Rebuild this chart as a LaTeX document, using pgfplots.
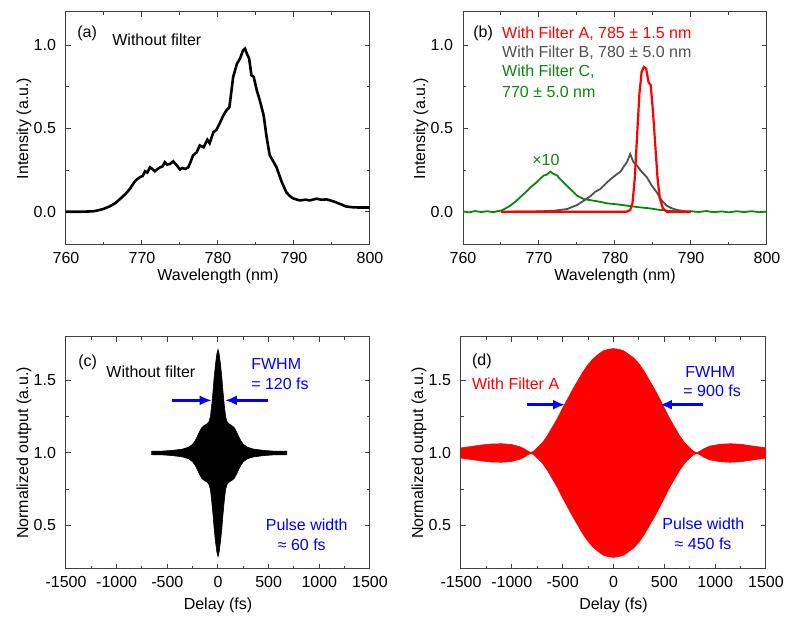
\documentclass[border=0pt]{standalone}
\usepackage{fontspec}
\setmainfont{Liberation Sans}
\usepackage{pgfplots}
\pgfplotsset{compat=1.18}
\usetikzlibrary{arrows.meta}

\definecolor{cred}{RGB}{255,0,0}
\definecolor{cgray}{RGB}{80,80,80}
\definecolor{cgreen}{RGB}{10,135,10}
\definecolor{cblue}{RGB}{0,0,255}

\tikzset{
  lbl/.style={anchor=west, inner xsep=0pt},
  farrow/.style={cblue, line width=1.3pt, -{Latex[length=6pt,width=5pt]}},
}

\pgfplotsset{
  panel/.style={
    scale only axis,
    font=\fontsize{8}{9.6}\selectfont,
    tick align=inside,
    tick pos=both,
    major tick length=2.5pt,
    minor tick length=1.5pt,
    axis line style={draw=black!75, line width=0.5pt},
    every tick/.style={draw=black!75, line width=0.5pt},
    /pgf/number format/assume math mode=true,
    yticklabel style={xshift=-1.5pt, /pgf/number format/.cd, fixed, fixed zerofill, precision=1},
    minor x tick num=1,
    minor y tick num=1,
  },
  spec/.style={
    panel, width=152pt, height=116.5pt,
    xmin=760, xmax=800, ymin=-0.2, ymax=1.2,
    xtick={760,770,780,790,800}, ytick={0,0.5,1.0},
    xlabel={Wavelength (nm)}, ylabel={Intensity (a.u.)},
    xlabel style={at={(axis description cs:0.5,-0.135)}, anchor=center},
    ylabel style={at={(axis description cs:-0.138,0.5)}, anchor=center},
  },
  delay/.style={
    panel, width=152pt, height=116pt,
    xmin=-1500, xmax=1500, ymin=0.2, ymax=1.8,
    xtick={-1500,-1000,-500,0,500,1000,1500}, ytick={0.5,1.0,1.5},
    xticklabel style={/pgf/number format/.cd, int detect, 1000 sep={}},
    xlabel={Delay (fs)}, ylabel={Normalized output (a.u.)},
    xlabel style={at={(axis description cs:0.5,-0.158)}, anchor=center},
    ylabel style={at={(axis description cs:-0.138,0.5)}, anchor=center},
  },
}

\begin{document}
\begin{tikzpicture}
\useasboundingbox (0,0) rectangle (400pt,315pt);

%% (a) spectrum without filter
\begin{axis}[spec, at={(33pt,192.5pt)}, anchor=south west]
\addplot[black, line width=1.3pt] coordinates {
  (760,0.000) (762,0.000) (763.5,0.002) (764,0.006) (764.9,0.016) (765.8,0.033)
  (766.5,0.052) (767.1,0.076) (767.8,0.105) (768.4,0.137) (769.1,0.185)
  (769.7,0.207) (770.1,0.215) (770.4,0.243) (770.7,0.235) (771.05,0.267)
  (771.4,0.255) (771.7,0.243) (772.1,0.258) (772.4,0.267) (772.7,0.272)
  (773.0,0.297) (773.3,0.283) (773.7,0.287) (774.1,0.303) (774.6,0.277)
  (775.0,0.253) (775.3,0.262) (775.7,0.257) (776.1,0.267) (776.4,0.300)
  (776.7,0.337) (777.2,0.357) (777.6,0.398) (778.1,0.387) (778.6,0.432)
  (778.9,0.411) (779.4,0.478) (779.8,0.492) (780.3,0.538) (780.7,0.578)
  (781.1,0.608) (781.5,0.628) (781.7,0.700) (782.0,0.810) (782.5,0.890)
  (782.9,0.920) (783.3,0.970) (783.55,0.980) (783.8,0.950) (784.1,0.920)
  (784.4,0.820) (784.7,0.810) (785.1,0.730) (785.5,0.669) (786.0,0.580)
  (786.4,0.448) (786.8,0.340) (787.3,0.300) (787.7,0.267) (788.4,0.177)
  (789.0,0.116) (789.5,0.092) (789.9,0.080) (790.4,0.072) (790.8,0.068)
  (791.5,0.072) (792.1,0.068) (792.6,0.074) (793.0,0.078) (793.6,0.072)
  (794.3,0.074) (795.2,0.062) (796.1,0.046) (796.8,0.032) (797.8,0.026)
  (799,0.025) (800,0.025)
};
\node[lbl] at (axis cs:761.45,1.072) {(a)};
\node[lbl] at (axis cs:766.05,1.030) {Without filter};
\end{axis}

%% (b) spectra with filters
\begin{axis}[spec, at={(231.5pt,192.5pt)}, anchor=south west]
\addplot[cgray, line width=0.9pt] coordinates {
  (766,0.000) (770,0.002) (772,0.006) (773.7,0.016) (775,0.040) (775.9,0.066)
  (776.8,0.095) (777.4,0.120) (778.1,0.137) (778.8,0.170) (779.4,0.195)
  (780.3,0.227) (780.7,0.240) (781.1,0.267) (781.6,0.300) (782.0,0.347)
  (782.4,0.300) (782.9,0.277) (783.5,0.240) (784.2,0.207) (784.8,0.160)
  (785.5,0.116) (786.1,0.070) (786.8,0.036) (787.5,0.020) (788.2,0.010)
  (789,0.004) (790,0.000)
};
\addplot[cgreen, line width=0.9pt] coordinates {
  (760,0.002) (760.8,-0.004) (761.6,0.004) (762.4,-0.002) (763.2,0.003)
  (764,-0.003) (764.6,0.004) (765.0,0.006) (765.6,0.020) (766.2,0.036)
  (766.9,0.060) (767.5,0.086) (768.2,0.115) (768.9,0.147) (769.7,0.177)
  (770.2,0.200) (770.6,0.217) (771.0,0.222) (771.5,0.240) (771.9,0.228)
  (772.4,0.217) (772.8,0.195) (773.2,0.177) (773.7,0.155) (774.1,0.137)
  (774.6,0.115) (775.0,0.096) (775.9,0.076) (777.2,0.066) (778.2,0.058)
  (779.0,0.050) (780.3,0.044) (781.6,0.036) (783.3,0.026) (784.6,0.020)
  (786.0,0.010) (787.0,0.006) (788.2,0.002) (789,-0.003) (790,0.003)
  (791,-0.002) (792,0.004) (793,-0.003) (794,0.002) (795,-0.004)
  (796,0.003) (797,-0.002) (798,0.003) (799,-0.003) (800,0.001)
};
\addplot[cred, line width=1.1pt] coordinates {
  (765,0.000) (781.5,0.000) (782.0,0.010) (782.3,0.050) (782.6,0.200)
  (782.9,0.450) (783.2,0.700) (783.5,0.840) (783.8,0.870) (784.1,0.860)
  (784.4,0.780) (784.7,0.760) (785.0,0.600) (785.3,0.400) (785.6,0.200)
  (785.9,0.080) (786.3,0.020) (786.8,0.000) (790,0.000)
};
\node[lbl] at (axis cs:761.3,1.072) {(b)};
\node[lbl, text=cred] at (axis cs:765.1,1.072) {With Filter A, 785 ± 1.5 nm};
\node[lbl, text=cgray] at (axis cs:765.1,0.954) {With Filter B, 780 ± 5.0 nm};
\node[lbl, text=cgreen] at (axis cs:765.1,0.843) {With Filter C,};
\node[lbl, text=cgreen] at (axis cs:765.1,0.720) {770 ± 5.0 nm};
\node[text=cgreen] at (axis cs:770.9,0.313) {×10};
\end{axis}

%% (c) autocorrelation without filter
\begin{axis}[delay, at={(33pt,30.5pt)}, anchor=south west]
\addplot[fill=black, draw=black, line width=0.3pt] coordinates {
  (-655,1.012) (-550,1.013) (-450,1.018) (-350,1.027) (-290,1.040)
  (-250,1.060) (-225,1.085) (-200,1.120) (-180,1.150) (-160,1.175)
  (-135,1.190) (-110,1.200) (-90,1.215) (-75,1.250) (-62,1.330)
  (-50,1.420) (-38,1.520) (-25,1.610) (-12,1.680) (0,1.715)
  (12,1.680) (25,1.610) (38,1.520) (50,1.420) (62,1.330) (75,1.250)
  (90,1.215) (110,1.200) (135,1.190) (160,1.175) (180,1.150) (200,1.120)
  (225,1.085) (250,1.060) (290,1.040) (350,1.027) (450,1.018) (550,1.013)
  (680,1.012)
  (680,0.988) (550,0.987) (450,0.982) (350,0.973) (290,0.960) (250,0.940)
  (225,0.915) (200,0.880) (180,0.850) (160,0.825) (135,0.810) (110,0.800)
  (90,0.785) (75,0.750) (62,0.670) (50,0.580) (38,0.480) (25,0.390)
  (12,0.320) (0,0.285) (-12,0.320) (-25,0.390) (-38,0.480) (-50,0.580)
  (-62,0.670) (-75,0.750) (-90,0.785) (-110,0.800) (-135,0.810)
  (-160,0.825) (-180,0.850) (-200,0.880) (-225,0.915) (-250,0.940)
  (-290,0.960) (-350,0.973) (-450,0.982) (-550,0.987) (-655,0.988)
} -- cycle;
\draw[farrow] (axis cs:-457,1.363) -- (axis cs:-62,1.363);
\draw[farrow] (axis cs:497,1.363) -- (axis cs:69,1.363);
\node[lbl] at (axis cs:-1382,1.625) {(c)};
\node[lbl] at (axis cs:-1105,1.557) {Without filter};
\node[lbl, text=cblue] at (axis cs:325,1.614) {FWHM};
\node[lbl, text=cblue] at (axis cs:325,1.480) {= 120 fs};
\node[text=cblue] at (axis cs:876,0.507) {Pulse width};
\node[text=cblue] at (axis cs:827,0.370) {≈ 60 fs};
\end{axis}

%% (d) autocorrelation with filter A
\begin{axis}[delay, width=152.5pt, at={(230.5pt,30.5pt)}, anchor=south west]
\addplot[fill=cred, draw=cred, line width=0.3pt] coordinates {
  (-1500,1.035) (-1400,1.045) (-1300,1.055) (-1200,1.062) (-1100,1.064)
  (-1000,1.058) (-930,1.045) (-880,1.030) (-840,1.012) (-815,1.003)
  (-790,1.010) (-750,1.035) (-700,1.070) (-650,1.120) (-600,1.180)
  (-550,1.240) (-500,1.310) (-450,1.375) (-400,1.440) (-350,1.500)
  (-300,1.560) (-250,1.610) (-200,1.650) (-150,1.680) (-100,1.705)
  (-50,1.715) (0,1.720) (50,1.715) (100,1.705) (150,1.680) (200,1.655)
  (250,1.615) (300,1.565) (350,1.505) (400,1.445) (450,1.380) (500,1.310)
  (550,1.240) (600,1.180) (650,1.120) (700,1.070) (750,1.035) (790,1.010)
  (820,1.003) (850,1.012) (890,1.030) (950,1.048) (1050,1.060)
  (1150,1.064) (1250,1.060) (1350,1.050) (1450,1.040) (1500,1.035)
  (1500,0.965) (1450,0.960) (1350,0.950) (1250,0.940) (1150,0.936)
  (1050,0.940) (950,0.952) (890,0.970) (850,0.988) (820,0.997) (790,0.990)
  (750,0.965) (700,0.930) (650,0.880) (600,0.820) (550,0.760) (500,0.690)
  (450,0.620) (400,0.555) (350,0.495) (300,0.435) (250,0.385) (200,0.345)
  (150,0.320) (100,0.295) (50,0.285) (0,0.280) (-50,0.285) (-100,0.295)
  (-150,0.320) (-200,0.350) (-250,0.390) (-300,0.440) (-350,0.500)
  (-400,0.560) (-450,0.625) (-500,0.690) (-550,0.760) (-600,0.820)
  (-650,0.880) (-700,0.930) (-750,0.965) (-790,0.990) (-815,0.997)
  (-840,0.988) (-880,0.970) (-930,0.955) (-1000,0.942) (-1100,0.936)
  (-1200,0.938) (-1300,0.945) (-1400,0.955) (-1500,0.965)
} -- cycle;
\draw[farrow] (axis cs:-854,1.333) -- (axis cs:-477,1.333);
\draw[farrow] (axis cs:883,1.333) -- (axis cs:457,1.333);
\node[lbl] at (axis cs:-1395,1.630) {(d)};
\node[lbl, text=cred] at (axis cs:-1395,1.480) {With Filter A};
\node[lbl, text=cblue] at (axis cs:703,1.560) {FWHM};
\node[lbl, text=cblue] at (axis cs:684,1.430) {= 900 fs};
\node[text=cblue] at (axis cs:884,0.514) {Pulse width};
\node[text=cblue] at (axis cs:881,0.377) {≈ 450 fs};
\end{axis}
\end{tikzpicture}
\end{document}
